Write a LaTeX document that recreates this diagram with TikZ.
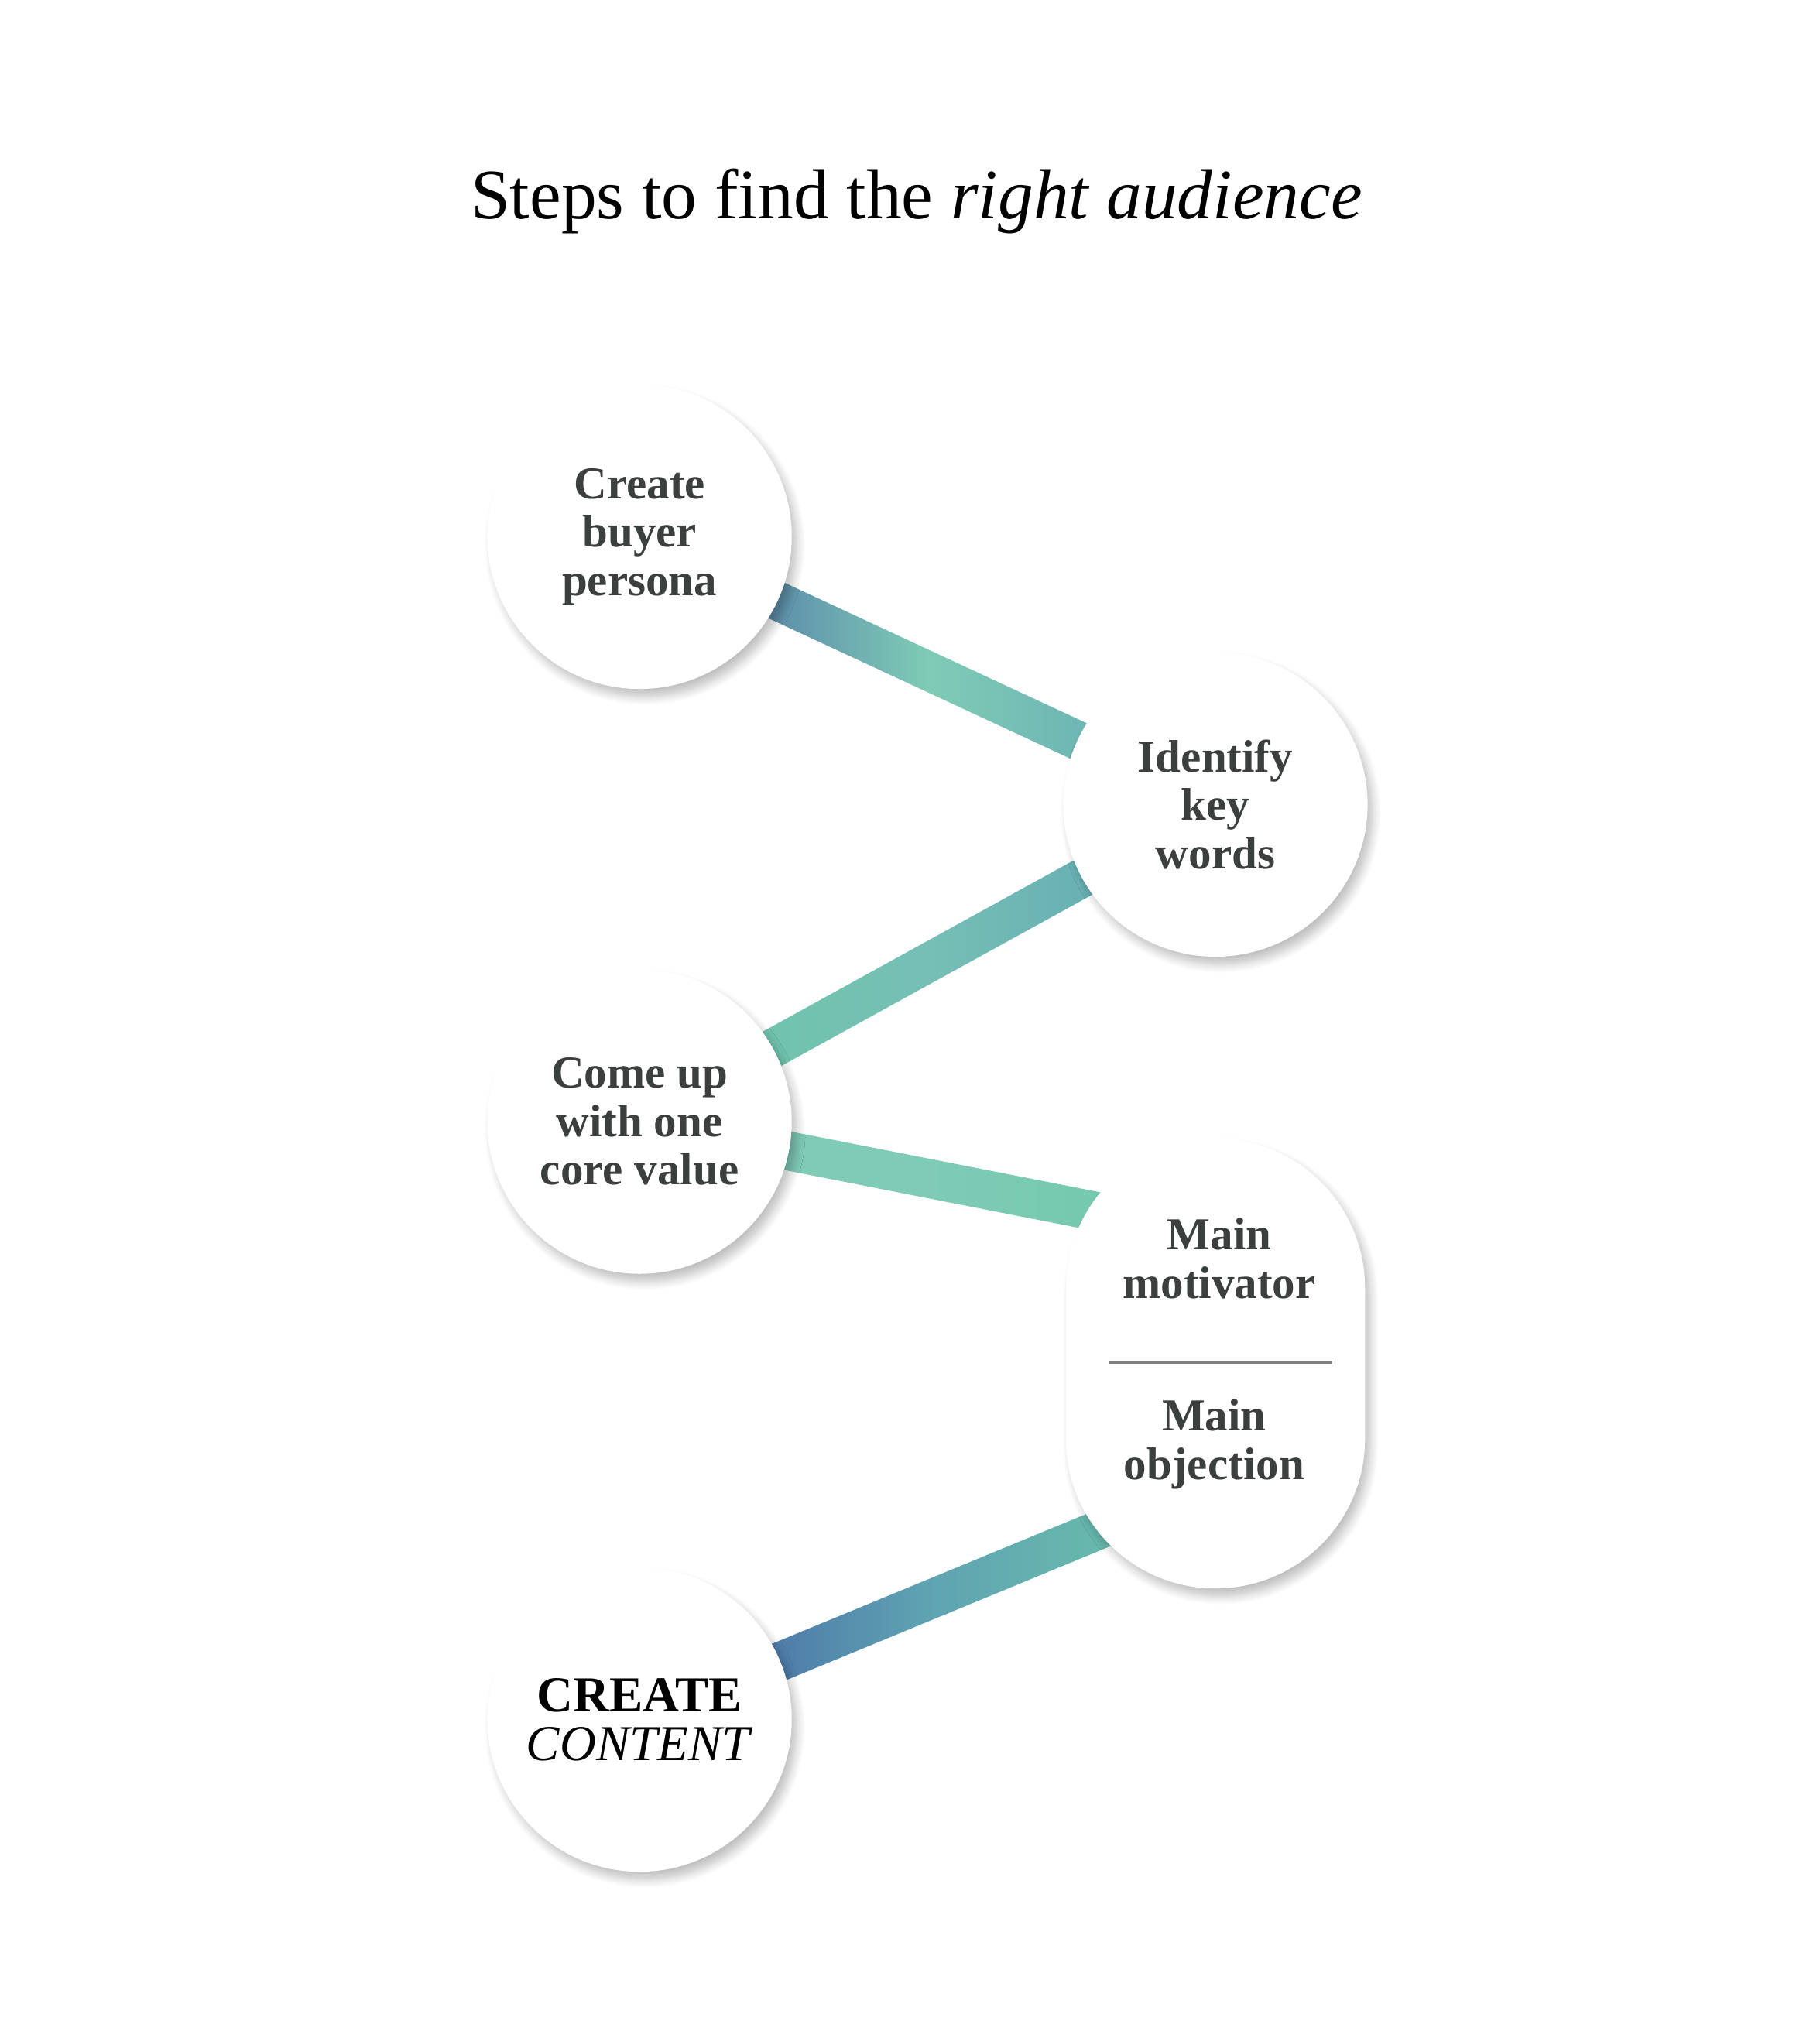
\documentclass[tikz,border=0pt]{standalone}
\usepackage{fontspec}
\setmainfont{Liberation Serif}
\usetikzlibrary{calc,shadows.blur}
\definecolor{bl}{HTML}{3F58A0}
\definecolor{tl}{HTML}{5FA3B2}
\definecolor{lg}{HTML}{7FCBB6}
\definecolor{gr}{HTML}{6DC7A8}
\definecolor{txt}{HTML}{3B403E}
\tikzset{
 bubble/.style={circle,fill=white,minimum size=2.34cm,inner sep=0pt,align=center,
   font=\fontsize{10}{10.6}\selectfont\bfseries,text=txt,
   blur shadow={shadow xshift=0.04cm,shadow yshift=-0.06cm,shadow blur steps=8,shadow opacity=25}},
 pillbox/.style={rectangle,rounded corners=1.15cm,fill=white,minimum width=2.3cm,minimum height=3.46cm,inner sep=0pt,
   blur shadow={shadow xshift=0.04cm,shadow yshift=-0.06cm,shadow blur steps=8,shadow opacity=25}},
 lbl/.style={align=center,font=\fontsize{10}{10.6}\selectfont\bfseries,text=txt}
}
\newcommand{\band}[5]{%
 \shade[left color=#3,right color=#5,middle color=#4] ($(#1)!0.15cm!90:(#2)$) -- ($(#2)!0.15cm!-90:(#1)$) -- ($(#2)!0.15cm!90:(#1)$) -- ($(#1)!0.15cm!-90:(#2)$) -- cycle;}
\begin{document}
\begin{tikzpicture}[x=0.01cm,y=-0.01cm]
\useasboundingbox (0,0) rectangle (1400,1568);
\node (title) at (705,155) {\fontsize{15.5}{19}\selectfont Steps to find the \textit{right audience}};
\coordinate (c1) at (492,413);
\coordinate (c2) at (935,619);
\coordinate (c3) at (492,863);
\coordinate (p1) at (935,950);
\coordinate (p2) at (935,1140);
\coordinate (c5) at (492,1323);
\band{c1}{c2}{bl}{lg}{tl}
\band{c3}{c2}{gr}{lg!70!tl}{tl}
\band{c3}{p1}{lg}{lg}{gr}
\band{c5}{p2}{bl}{tl}{gr}
\node[bubble] (n1) at (c1) {Create\\buyer\\persona};
\node[bubble] (n2) at (c2) {Identify\\key\\words};
\node[bubble] (n3) at (c3) {Come up\\with one\\core value};
\node[pillbox] (n4) at (935,1049) {};
\node[lbl] (m1) at (938,968) {Main\\motivator};
\node[lbl] (m2) at (934,1111) {Main\\objection};
\draw[gray,line width=0.6pt] (853,1048) -- (1025,1048);
\node[bubble,text=black] (n5) at (c5) {\fontsize{11}{12}\selectfont\textbf{CREATE}\\\fontsize{11}{12}\selectfont\mdseries\textit{CONTENT}};
\end{tikzpicture}
\end{document}
